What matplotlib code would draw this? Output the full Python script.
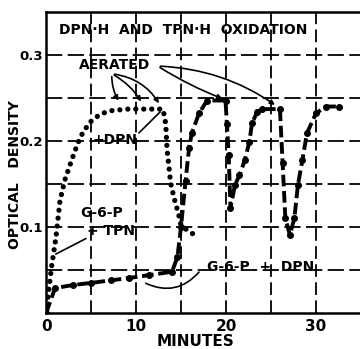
import matplotlib
matplotlib.use("Agg")
from matplotlib import pyplot as plt

# G-6-P + TPN (dotted curve)
t_tpn = [0, 0.6, 1.1, 1.55, 2.1, 2.85, 3.55, 4.1, 4.9, 6.0, 7.1, 8, 9, 10, 11, 12, 13.0,
         13.3, 13.45, 13.85, 14.2, 14.8, 15.0, 16.1, 17.0]
od_tpn = [0, 0.053, 0.088, 0.131, 0.155, 0.178, 0.198, 0.21, 0.222, 0.231, 0.235, 0.236,
          0.237, 0.237, 0.237, 0.237, 0.237, 0.22, 0.19, 0.151, 0.135, 0.112, 0.102, 0.093, 0.0895]

# G-6-P + DPN (dash-dot curve, aerated)
t_dpn = [0, 1.0, 3.0, 5.0, 7.2, 9.2, 11.4, 14.0, 14.6, 15.0, 15.5, 15.9, 16.2, 17.0, 17.9,
         19.95, 20.1, 20.3, 20.5, 21.0, 21.5, 22.1, 22.6, 22.9, 23.5, 24.0, 26.0, 26.3, 26.6,
         27.1, 27.6, 28.0, 28.5, 29.0, 30.0, 31.1, 32.6]
od_dpn = [0, 0.029, 0.0326, 0.035, 0.038, 0.0407, 0.044, 0.048, 0.065, 0.10, 0.153, 0.192,
          0.209, 0.232, 0.247, 0.247, 0.22, 0.184, 0.122, 0.149, 0.16, 0.178, 0.199, 0.221,
          0.234, 0.237, 0.237, 0.174, 0.11, 0.091, 0.11, 0.149, 0.178, 0.209, 0.232, 0.24, 0.24]

x_ticks = [0, 10, 20, 30]
y_ticks = [0.1, 0.2, 0.3]

plt.rcParams['font.family'] = ['DejaVu Sans']
fig = plt.figure(figsize=(3.6, 3.49), dpi=100)
ax = fig.add_axes([0.128, 0.103, 0.872, 0.863])
ax.set_xlim(0, 34.9)
ax.set_ylim(0, 0.35)

# hand-drawn looking grid
for gx in range(5, 35, 5):
    ax.axvline(gx, color='black', lw=1.3, ls=(0, (7, 3)), zorder=1)
for gy in [0.05, 0.1, 0.15, 0.2, 0.25, 0.3]:
    ax.axhline(gy, color='black', lw=1.3, ls=(0, (9, 3)), zorder=1)

ax.plot(t_tpn, od_tpn, color='black', lw=3.8, ls=(0, (0.01, 1.5)),
        dash_capstyle='round', zorder=3)
ax.plot(t_dpn, od_dpn, color='black', lw=2.8, ls=(0, (3, 1.2)),
        marker='o', markersize=4, zorder=3)

bold = dict(fontweight='bold', color='black')
ax.text(15.2, 0.329, "DPN·H  AND  TPN·H  OXIDATION", ha='center', va='center', fontsize=10, **bold)
ax.text(7.6, 0.288, "AERATED", ha='center', va='center', fontsize=10, **bold)
ax.text(7.7, 0.201, "+DPN", ha='center', va='center', fontsize=10, **bold)
ax.text(6.2, 0.116, "G-6-P", ha='center', va='center', fontsize=10, **bold)
ax.text(4.6, 0.095, "+ TPN", ha='left', va='center', fontsize=10, **bold)
ax.text(23.8, 0.053, "G-6-P  +  DPN", ha='center', va='center', fontsize=10, **bold)

arr = dict(arrowstyle='-|>', color='black', lw=1.2, mutation_scale=7)
for tx, ty, rad in [(8.2, 0.244, 0.15), (10.7, 0.243, -0.15), (12.7, 0.241, -0.25)]:
    ax.annotate("", xy=(tx, ty), xytext=(7.3, 0.278),
                arrowprops=dict(connectionstyle=f"arc3,rad={rad}", **arr))
for tx, ty, rad in [(19.9, 0.248, 0.05), (25.7, 0.240, -0.15)]:
    ax.annotate("", xy=(tx, ty), xytext=(12.4, 0.287),
                arrowprops=dict(connectionstyle=f"arc3,rad={rad}", **arr))
plain = dict(arrowstyle='-', color='black', lw=1.2)
ax.annotate("", xy=(12.9, 0.236), xytext=(10.1, 0.207), arrowprops=plain)
ax.annotate("", xy=(0.8, 0.067), xytext=(4.7, 0.088), arrowprops=plain)
ax.annotate("", xy=(10.8, 0.036), xytext=(17.2, 0.05),
            arrowprops=dict(connectionstyle="arc3,rad=-0.4", **plain))

ax.spines['right'].set_visible(False)
for s in ['left', 'bottom', 'top']:
    ax.spines[s].set_linewidth(1.8)
ax.set_xticks(x_ticks)
ax.set_yticks(y_ticks)
ax.set_xticklabels([str(v) for v in x_ticks], fontsize=11, fontweight='bold')
ax.set_yticklabels([str(v) for v in y_ticks], fontsize=9.5, fontweight='bold')
ax.tick_params(axis='x', length=0, pad=4)
ax.tick_params(axis='y', length=0, pad=2)
fig.text(196 / 360, 0.022, "MINUTES", ha='center', va='center', fontsize=11, **bold)
fig.text(15 / 360, 0.50, "OPTICAL   DENSITY", ha='center', va='center', rotation=90,
         fontsize=10, **bold)

plt.savefig("out.png", dpi=100)
plt.close()
